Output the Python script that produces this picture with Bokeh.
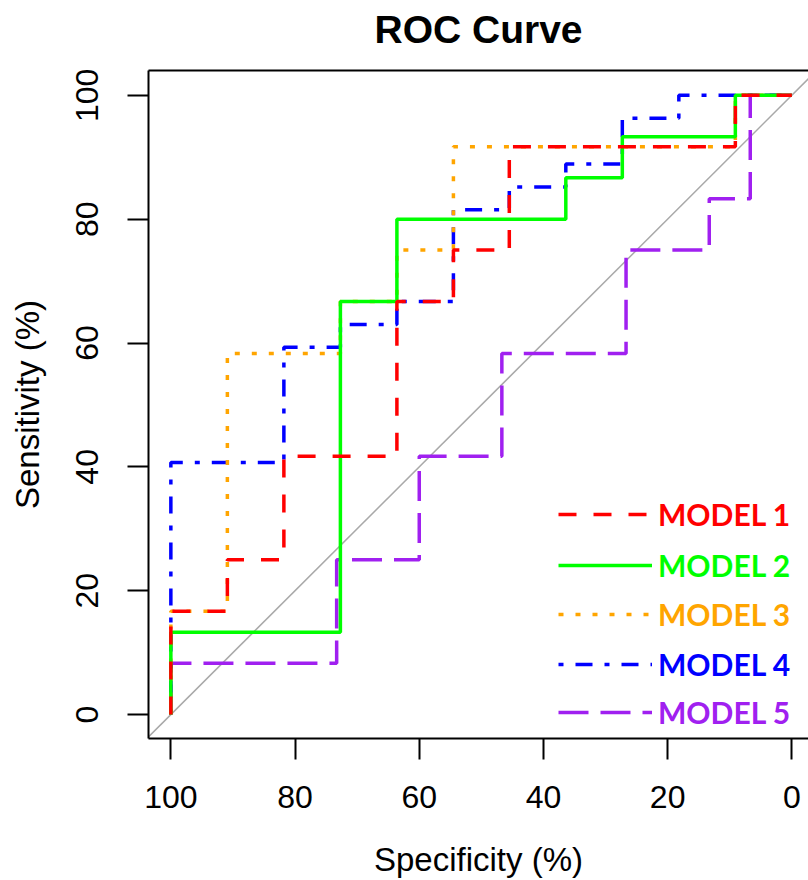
from bokeh.plotting import figure
from bokeh.models import Range1d, FixedTicker, LinearAxis, Slope, Legend, LegendItem
from bokeh.embed import file_html
from bokeh.resources import INLINE

# ---- data ----
model_names = ["MODEL 1", "MODEL 2", "MODEL 3", "MODEL 4", "MODEL 5"]

spec1 = [100, 100, 90.9, 90.9, 81.8, 81.8, 63.6, 63.6, 54.5, 54.5, 45.5, 45.5, 9.1, 9.1, 0]
sens1 = [0, 16.7, 16.7, 25.0, 25.0, 41.7, 41.7, 66.7, 66.7, 75.0, 75.0, 91.7, 91.7, 100, 100]

spec2 = [100, 100, 72.7, 72.7, 63.6, 63.6, 36.4, 36.4, 27.3, 27.3, 9.1, 9.1, 0]
sens2 = [0, 13.3, 13.3, 66.7, 66.7, 80.0, 80.0, 86.7, 86.7, 93.3, 93.3, 100, 100]

spec3 = [100, 100, 90.9, 90.9, 72.7, 72.7, 63.6, 63.6, 54.5, 54.5, 9.1, 9.1, 0]
sens3 = [0, 16.7, 16.7, 58.3, 58.3, 66.7, 66.7, 75.0, 75.0, 91.7, 91.7, 100, 100]

spec4 = [100, 100, 81.8, 81.8, 72.7, 72.7, 63.6, 63.6, 54.5, 54.5, 45.5, 45.5,
         36.4, 36.4, 27.3, 27.3, 18.2, 18.2, 0]
sens4 = [0, 40.7, 40.7, 59.3, 59.3, 63.0, 63.0, 66.7, 66.7, 81.5, 81.5, 85.2,
         85.2, 88.9, 88.9, 96.3, 96.3, 100, 100]

spec5 = [100, 100, 73.3, 73.3, 60.0, 60.0, 46.7, 46.7, 26.7, 26.7, 13.3, 13.3, 6.7, 6.7, 0]
sens5 = [0, 8.3, 8.3, 25.0, 25.0, 41.7, 41.7, 58.3, 58.3, 75.0, 75.0, 83.3, 83.3, 100, 100]

axis_ticks = [0, 20, 40, 60, 80, 100]

specs = [spec1, spec2, spec3, spec4, spec5]
senss = [sens1, sens2, sens3, sens4, sens5]

# ---- styles ----
colors = ["#FF0000", "#00FF00", "#FFA500", "#0000FF", "#A020F0"]
dashes = ["18 17", "solid", "5 12", "5 12 17 12", "30 12"]
legend_bottoms = [206, 155, 106, 56, 8]

FONT = "Liberation Sans"

p = figure(width=808, height=880, output_backend="svg", toolbar_location=None,
           x_range=Range1d(103.6, -2.68), y_range=Range1d(-3.86, 104.0),
           min_border_left=148, min_border_right=0, min_border_top=70, min_border_bottom=142,
           x_axis_label="Specificity (%)", y_axis_label="Sensitivity (%)")

p.title.visible = False

p.outline_line_color = None
p.xgrid.visible = False
p.ygrid.visible = False

bottom_axis = p.below[0]
left_axis = p.left[0]

for ax in (bottom_axis, left_axis):
    ax.ticker = FixedTicker(ticks=axis_ticks)
    ax.axis_line_width = 2
    ax.axis_line_color = "black"
    ax.major_tick_line_width = 2
    ax.major_tick_line_color = "black"
    ax.major_tick_out = 21
    ax.major_tick_in = 0
    ax.minor_tick_line_color = None
    ax.major_label_text_font = FONT
    ax.major_label_text_font_size = "32px"
    ax.major_label_text_color = "black"
    ax.axis_label_text_font = FONT
    ax.axis_label_text_font_size = "33px"
    ax.axis_label_text_font_style = "normal"
    ax.axis_label_text_color = "black"

bottom_axis.major_label_standoff = 26
bottom_axis.axis_label_standoff = 30
left_axis.major_label_orientation = "vertical"
left_axis.major_label_standoff = 29
left_axis.axis_label_standoff = 28

# top border of the box, carrying the chart title as its label
top_axis = LinearAxis(ticker=FixedTicker(ticks=[]), axis_line_width=2, axis_line_color="black",
                      major_tick_line_color=None, minor_tick_line_color=None,
                      major_label_text_font_size="0px", major_label_standoff=0,
                      major_tick_out=0, major_tick_in=0,
                      axis_label="ROC Curve", axis_label_text_font=FONT,
                      axis_label_text_font_size="39px", axis_label_text_font_style="bold",
                      axis_label_text_color="black", axis_label_standoff=20)
p.add_layout(top_axis, "above")

diag = Slope(gradient=-1, y_intercept=100, line_color="#A9A9A9", line_width=1.5, level="underlay")
p.add_layout(diag)

renderers = {}
for i in [4, 3, 2, 1, 0]:
    renderers[i] = p.line(specs[i], senss[i], line_color=colors[i], line_width=3.5,
                          line_dash=dashes[i])

for i in range(5):
    leg = Legend(items=[LegendItem(label=model_names[i], renderers=[renderers[i]])],
                 location=(410, legend_bottoms[i]), orientation="vertical",
                 glyph_width=94, glyph_height=36, label_height=36, label_standoff=6,
                 padding=0, margin=0, spacing=0, border_line_color=None,
                 background_fill_alpha=0,
                 label_text_font="Lato", label_text_font_style="bold",
                 label_text_font_size="30px", label_text_color=colors[i])
    p.add_layout(leg)

open("out.html", "w").write(file_html(p, INLINE))
